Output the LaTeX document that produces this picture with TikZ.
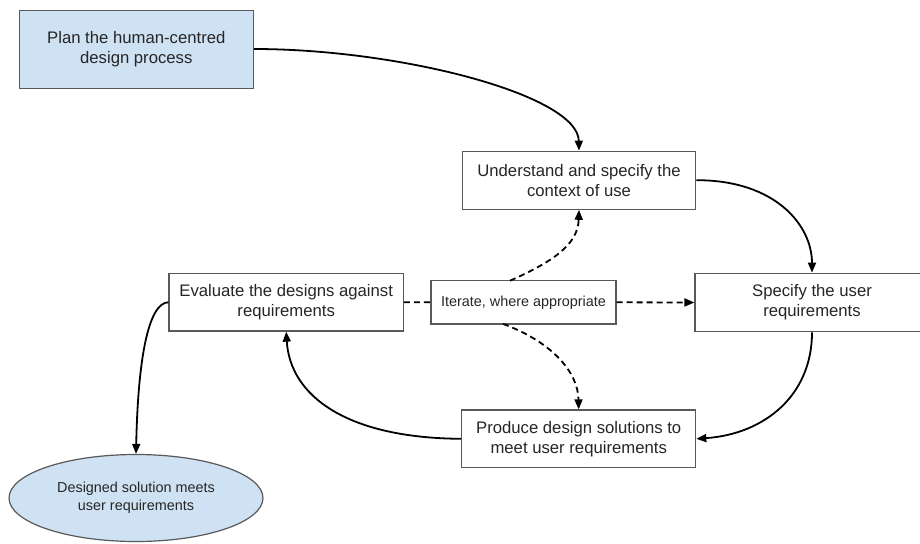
\documentclass[tikz,border=0pt]{standalone}
\usepackage{fontspec}
\setmainfont{Liberation Sans}
\usetikzlibrary{arrows.meta,shapes.geometric}
\definecolor{boxfill}{HTML}{CFE2F3}
\definecolor{boxline}{HTML}{595959}
\tikzset{
  stepbox/.style={draw=boxline, line width=1.2pt, fill=white, rectangle,
    inner sep=0pt, align=center, text=black!85,
    font=\fontsize{16.7}{20}\selectfont},
  startbox/.style={stepbox, fill=boxfill},
  smallbox/.style={stepbox, font=\fontsize{14.4}{17}\selectfont},
  endshape/.style={ellipse, draw=boxline, line width=1.2pt, fill=boxfill,
    inner sep=0pt, align=center, text=black!85,
    font=\fontsize{14.4}{17.5}\selectfont},
  flow/.style={line width=1.8pt, -{Triangle[length=10pt,width=8pt]}},
  loopline/.style={line width=1.8pt, dash pattern=on 6pt off 4pt},
  looparrow/.style={loopline, -{Triangle[length=10pt,width=8pt]}},
}
\begin{document}
\begin{tikzpicture}[x=1pt,y=-1pt]
\useasboundingbox (0,0) rectangle (920,543);
\fill[white] (0,0) rectangle (920,543);

% process steps
\node[startbox, minimum width=234pt, minimum height=78pt] (plan) at (136.3,49.2)
  {Plan the human-centred\\design process};
\node[stepbox, minimum width=233.5pt, minimum height=58pt] (context) at (579,180.2)
  {Understand and specify the\\context of use};
\node[stepbox, minimum width=234pt, minimum height=58.5pt] (userreq) at (812,302.5)
  {Specify the user\\requirements};
\node[stepbox, minimum width=234.3pt, minimum height=57.7pt] (evaluate) at (286.2,302.2)
  {Evaluate the designs against\\requirements};
\node[stepbox, minimum width=234pt, minimum height=57.7pt] (produce) at (578.7,438.8)
  {Produce design solutions to\\meet user requirements};
\node[smallbox, minimum width=185pt, minimum height=43.3pt] (iterate) at (523.5,302.3)
  {Iterate, where appropriate};
\node[endshape, minimum width=254pt, minimum height=87pt] (done) at (136,498)
  {Designed solution meets\\user requirements};

% main cycle
\draw[flow] (plan.east |- 0,49) .. controls (400,49) and (578,95) .. (context.north);
\draw[flow] (context.east) .. controls (775,180) and (812,225) .. (userreq.north);
\draw[flow] (userreq.south) .. controls (812,395) and (765,434) .. (produce.east);
\draw[flow] (produce.west) .. controls (345,438) and (290,395) .. (evaluate.south);
\draw[flow] (evaluate.west) .. controls (148,303) and (138,360) .. (done.north);

% iteration
\coordinate (itop) at (510,280.7);
\coordinate (ibot) at (503,323.9);
\draw[loopline] (evaluate.east) -- (iterate.west);
\draw[looparrow] (iterate.east) -- (userreq.west);
\draw[looparrow] (itop) .. controls (552,262) and (578,245) .. (context.south);
\draw[looparrow] (ibot) .. controls (552,342) and (578,372) .. (produce.north);
\end{tikzpicture}
\end{document}
